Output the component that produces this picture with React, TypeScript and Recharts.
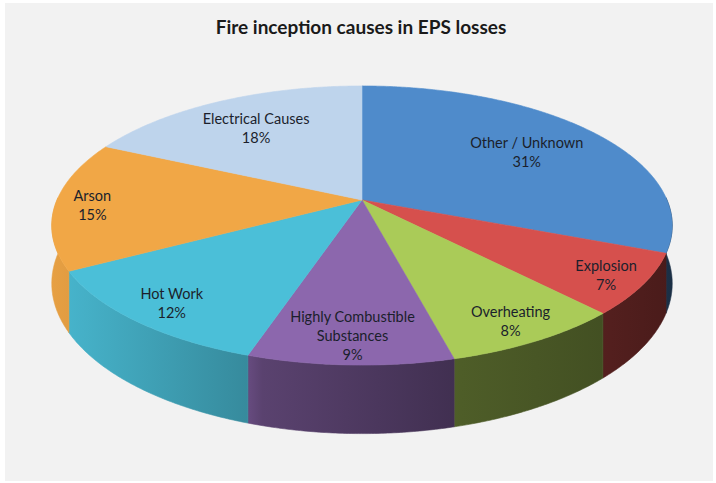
import { PieChart, Pie } from "recharts";

// Fire inception causes, read clockwise from 12 o'clock
const CAUSES = [
  "Other / Unknown",
  "Explosion",
  "Overheating",
  "Highly Combustible Substances",
  "Hot Work",
  "Arson",
  "Electrical Causes",
];
const SHARES = [31, 7, 8, 9, 12, 15, 18];

const COLORS = ["#4f8bcb", "#d6504d", "#aacb58", "#8c67ad", "#4bbfd8", "#f1a746", "#bed4ec"];
// how far out each caption sits (fraction of radius) – Excel pushes the front ones outwards
const LABEL_R = [0.7, 0.88, 0.87, 0.84, 0.86, 0.88, 0.72];

const rows = CAUSES.map((name, i) => ({ name, value: SHARES[i] }));

// fake 3D: tilt + a bit of perspective, then a wall of DEPTH px
const TILT = 0.4423;
const PERSP = 0.1828;
const DEPTH = 56;
const SIDE_SHADE: [number, number][] = [
  [0, 0.96],
  [0.32, 0.72],
  [0.34, 0.64],
  [0.66, 0.46],
  [0.9, 0.39],
  [1, 0.34],
];

type P = [number, number];

function pt(cx: number, cy: number, R: number, deg: number, frac = 1, drop = 0): P {
  const t = (deg * Math.PI) / 180;
  const u = frac * Math.cos(t);
  const v = frac * Math.sin(t);
  const w = 1 + PERSP * v;
  return [cx + (R * u) / w, cy + (-R * TILT * v + drop) / w];
}

function arc(cx: number, cy: number, R: number, from: number, to: number, drop = 0): P[] {
  const n = Math.max(2, Math.ceil(Math.abs(to - from) / 0.5));
  const out: P[] = [];
  for (let i = 0; i <= n; i++) out.push(pt(cx, cy, R, from + ((to - from) * i) / n, 1, drop));
  return out;
}

const toPath = (pts: P[]) =>
  "M" + pts.map(([x, y]) => `${x.toFixed(2)},${y.toFixed(2)}`).join("L") + "Z";

function shade(hex: string, f: number) {
  const n = parseInt(hex.slice(1), 16);
  const r = Math.round(((n >> 16) & 255) * f);
  const g = Math.round(((n >> 8) & 255) * f);
  const b = Math.round((n & 255) * f);
  return `rgb(${r},${g},${b})`;
}

function Side(props: any) {
  const { cx, cy, outerRadius: R, startAngle, endAngle, index } = props;
  const hi = Math.max(startAngle, endAngle);
  const lo = Math.min(startAngle, endAngle);
  const a1 = Math.max(lo, -181);
  const a2 = Math.min(hi, 1);
  if (a2 <= a1) return <g />;
  const col = COLORS[index];
  const pts = [...arc(cx, cy, R, a2, a1), ...arc(cx, cy, R, a1, a2, DEPTH)];
  const id = `side-${index}`;
  return (
    <g>
      <defs>
        <linearGradient id={id} gradientUnits="userSpaceOnUse" x1={cx - R * 1.02} x2={cx + R * 1.02} y1={0} y2={0}>
          {SIDE_SHADE.map(([o, f]) => (
            <stop key={o} offset={o} stopColor={shade(col, f)} />
          ))}
        </linearGradient>
      </defs>
      <path d={toPath(pts)} fill={`url(#${id})`} stroke={`url(#${id})`} strokeWidth={0.6} />
    </g>
  );
}

function Face(props: any) {
  const { cx, cy, outerRadius: R, startAngle, endAngle, index } = props;
  const pts: P[] = [[cx, cy], ...arc(cx, cy, R, startAngle, endAngle)];
  return <path d={toPath(pts)} fill={COLORS[index]} stroke={COLORS[index]} strokeWidth={0.6} />;
}

function wrap(name: string) {
  if (name.length <= 20) return [name];
  const cut = name.lastIndexOf(" ");
  return [name.slice(0, cut), name.slice(cut + 1)];
}

function Caption(props: any) {
  const { cx, cy, outerRadius: R, startAngle, endAngle, index, percent } = props;
  const mid = (startAngle + endAngle) / 2;
  const [x, y] = pt(cx, cy, R, mid, LABEL_R[index]);
  const lines = [...wrap(CAUSES[index]), `${Math.round(percent * 100)}%`];
  return (
    <text textAnchor="middle" fontFamily="Lato, sans-serif" fontSize={14.5} fill="#1b1f2c">
      {lines.map((l, i) => (
        <tspan key={i} x={x} y={y + (i - (lines.length - 1) / 2) * 19 + 7}>
          {l}
        </tspan>
      ))}
    </text>
  );
}

export default function App() {
  const pieProps = {
    data: rows,
    dataKey: "value",
    nameKey: "name",
    cx: 362,
    cy: 200,
    outerRadius: 305,
    startAngle: 90,
    endAngle: -270,
    fill: "none",
    stroke: "none",
    labelLine: false,
    isAnimationActive: false,
  };
  return (
    <div style={{ position: "absolute", left: 0, top: 0, width: 716, height: 483, background: "#ffffff" }}>
      <div style={{ position: "absolute", left: 5, top: 3, width: 708, height: 478, background: "#f2f2f2" }} />
      <svg width={716} height={60} style={{ position: "absolute", left: 0, top: 0 }}>
        <text x={361} y={34} textAnchor="middle" fontFamily="Lato, sans-serif" fontWeight={700} fontSize={19} fill="#1a1a1a">
          Fire inception causes in EPS losses
        </text>
      </svg>
      <div style={{ position: "absolute", left: 0, top: 0 }}>
        <PieChart width={716} height={483} margin={{ top: 0, right: 0, bottom: 0, left: 0 }}>
          <Pie {...pieProps} label={Side} />
          <Pie {...pieProps} label={Face} />
          <Pie {...pieProps} label={Caption} />
        </PieChart>
      </div>
    </div>
  );
}
